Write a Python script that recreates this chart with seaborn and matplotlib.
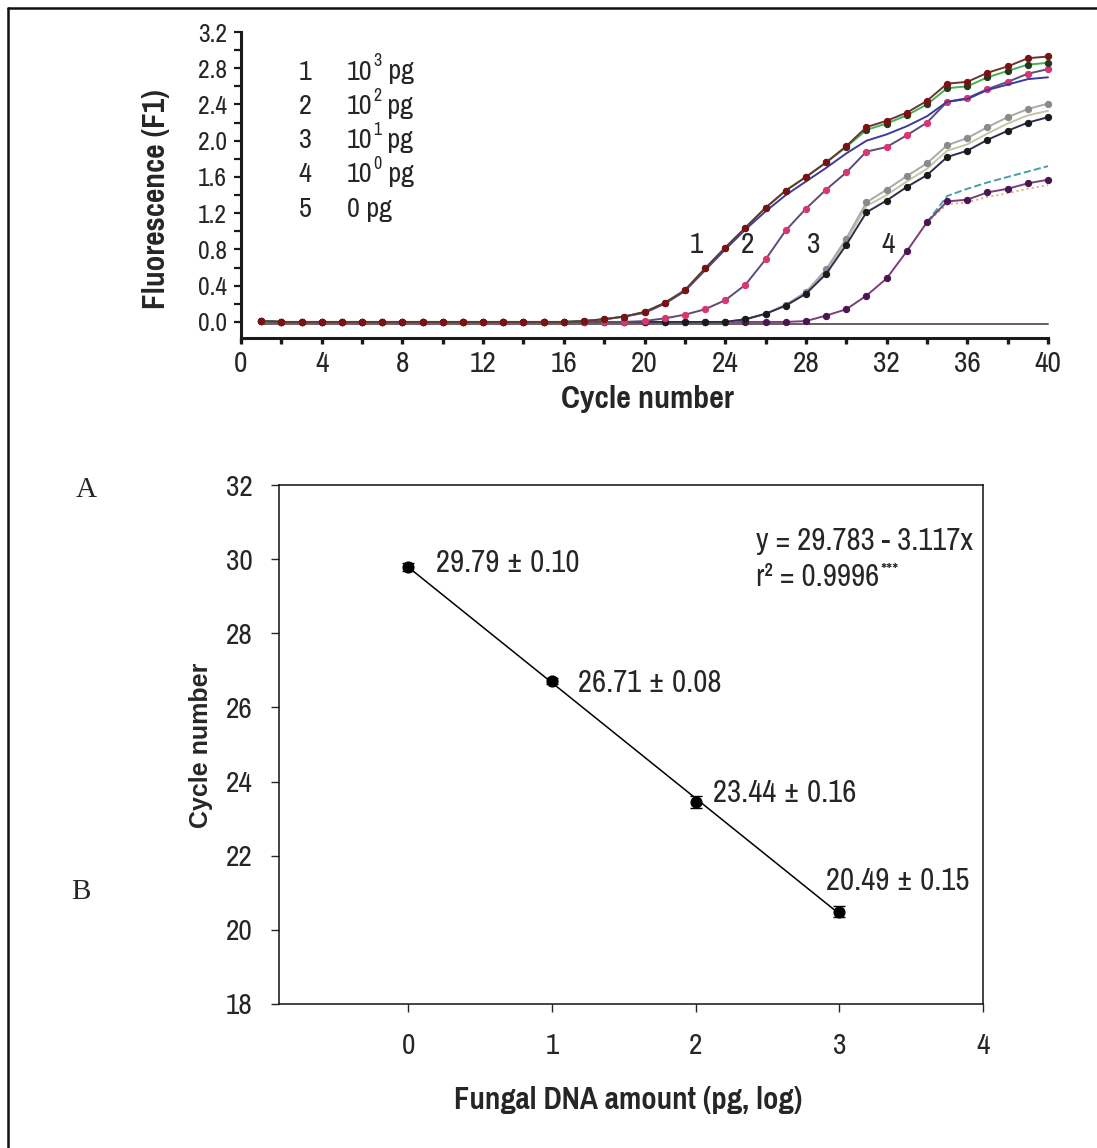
import matplotlib
matplotlib.use('Agg')
import matplotlib.pyplot as plt
import seaborn as sns
from matplotlib import font_manager
from matplotlib.ticker import MultipleLocator, FormatStrFormatter

# --- A: amplification curves (fluorescence per cycle) ---
cycles = list(range(1, 41))

rep1_red = [0.01, 0.00, 0.00, 0.00, 0.00, 0.00, 0.00, 0.00, 0.00, 0.00,
            0.00, 0.00, 0.00, 0.00, 0.00, 0.00, 0.01, 0.03, 0.06, 0.11,
            0.21, 0.35, 0.59, 0.82, 1.04, 1.26, 1.45, 1.60, 1.76, 1.94,
            2.15, 2.22, 2.31, 2.44, 2.63, 2.65, 2.75, 2.82, 2.91, 2.93]
rep1_green = [0.01, 0.00, 0.00, 0.00, 0.00, 0.00, 0.00, 0.00, 0.00, 0.00,
              0.00, 0.00, 0.00, 0.00, 0.00, 0.00, 0.01, 0.03, 0.06, 0.11,
              0.21, 0.35, 0.59, 0.82, 1.04, 1.26, 1.45, 1.60, 1.76, 1.93,
              2.12, 2.19, 2.28, 2.40, 2.58, 2.60, 2.70, 2.77, 2.84, 2.86]
rep1_blue = [0.01, 0.00, 0.00, 0.00, 0.00, 0.00, 0.00, 0.00, 0.00, 0.00,
             0.00, 0.00, 0.00, 0.00, 0.00, 0.00, 0.01, 0.03, 0.06, 0.10,
             0.20, 0.34, 0.57, 0.80, 1.02, 1.22, 1.40, 1.55, 1.70, 1.86,
             2.00, 2.07, 2.16, 2.27, 2.43, 2.46, 2.56, 2.62, 2.68, 2.70]
curve2 = [0.01, 0.00, 0.00, 0.00, 0.00, 0.00, 0.00, 0.00, 0.00, 0.00,
          0.00, 0.00, 0.00, 0.00, 0.00, 0.00, 0.00, 0.00, 0.00, 0.01,
          0.04, 0.08, 0.14, 0.24, 0.41, 0.69, 1.01, 1.25, 1.46, 1.65,
          1.88, 1.93, 2.06, 2.20, 2.43, 2.47, 2.57, 2.65, 2.74, 2.79]
rep3_dark = [0.01, 0.00, 0.00, 0.00, 0.00, 0.00, 0.00, 0.00, 0.00, 0.00,
             0.00, 0.00, 0.00, 0.00, 0.00, 0.00, 0.00, 0.00, 0.00, 0.00,
             0.00, 0.00, 0.00, 0.00, 0.03, 0.09, 0.18, 0.31, 0.53, 0.85,
             1.21, 1.34, 1.49, 1.62, 1.82, 1.89, 2.01, 2.11, 2.20, 2.26]
rep3_light = [0.01, 0.00, 0.00, 0.00, 0.00, 0.00, 0.00, 0.00, 0.00, 0.00,
              0.00, 0.00, 0.00, 0.00, 0.00, 0.00, 0.00, 0.00, 0.00, 0.00,
              0.00, 0.00, 0.00, 0.00, 0.03, 0.09, 0.19, 0.33, 0.58, 0.92,
              1.32, 1.46, 1.61, 1.75, 1.95, 2.03, 2.15, 2.26, 2.35, 2.41]
rep3_mid = [0.01, 0.00, 0.00, 0.00, 0.00, 0.00, 0.00, 0.00, 0.00, 0.00,
            0.00, 0.00, 0.00, 0.00, 0.00, 0.00, 0.00, 0.00, 0.00, 0.00,
            0.00, 0.00, 0.00, 0.00, 0.03, 0.09, 0.18, 0.32, 0.56, 0.89,
            1.28, 1.40, 1.55, 1.69, 1.89, 1.96, 2.08, 2.19, 2.28, 2.33]
curve4 = [0.01, 0.00, 0.00, 0.00, 0.00, 0.00, 0.00, 0.00, 0.00, 0.00,
          0.00, 0.00, 0.00, 0.00, 0.00, 0.00, 0.00, 0.00, 0.00, 0.00,
          0.00, 0.00, 0.00, 0.00, 0.00, 0.00, 0.00, 0.01, 0.07, 0.14,
          0.29, 0.48, 0.78, 1.10, 1.33, 1.35, 1.43, 1.47, 1.53, 1.57]
tail_cycles = [34, 35, 36, 37, 38, 39, 40]
rep4_teal = [1.10, 1.39, 1.47, 1.54, 1.60, 1.66, 1.72]
rep4_orange = [1.10, 1.30, 1.32, 1.38, 1.42, 1.47, 1.51]
curve5 = [-0.02, -0.02, -0.02, -0.02, -0.02, -0.02, -0.02, -0.02, -0.02, -0.02,
          -0.02, -0.02, -0.02, -0.02, -0.02, -0.02, -0.02, -0.02, -0.02, -0.02,
          -0.02, -0.02, -0.02, -0.02, -0.02, -0.02, -0.02, -0.02, -0.02, -0.02,
          -0.02, -0.02, -0.02, -0.02, -0.02, -0.02, -0.02, -0.02, -0.02, -0.02]

legend_ids = ['1', '2', '3', '4', '5']
legend_base = ['10', '10', '10', '10', '0']
legend_sup = ['3', '2', '1', '0', '']
curve_ids = ['1', '2', '3', '4']
curve_id_x = [22.55, 25.1, 28.4, 32.1]

# --- B: standard curve ---
log_amount = [0, 1, 2, 3]
ct_mean = [29.79, 26.71, 23.44, 20.49]
ct_sd = [0.10, 0.08, 0.16, 0.15]
ct_labels = ['29.79 ± 0.10', '26.71 ± 0.08', '23.44 ± 0.16', '20.49 ± 0.15']
ct_label_pos = [(0.19, 29.9), (1.18, 26.66), (2.12, 23.69), (2.91, 21.32)]

sns.set_style('ticks')

# pick a narrow sans that has a bold face
fonts = font_manager.fontManager.ttflist
fam_weights = {}
for f in fonts:
    w = f.weight if isinstance(f.weight, int) else 400
    fam_weights.setdefault(f.name, set()).add(w)
NARROW = 'Liberation Sans'
for cand in ['Pragati Narrow', 'PT Sans Narrow', 'Archivo Narrow', 'Roboto Condensed']:
    if cand in fam_weights and max(fam_weights[cand]) >= 700:
        NARROW = cand
        break
plt.rcParams['font.family'] = [NARROW, 'DejaVu Sans']

W, H = 1097, 1148
fig = plt.figure(figsize=(W / 100, H / 100), dpi=100)


def fx(px):
    return px / W


def fy(py):
    return 1 - py / H


# frame lines (left and top only)
fig.add_artist(plt.Line2D([fx(8), fx(8)], [fy(8), 0], transform=fig.transFigure, color='#111111', lw=1.8))
fig.add_artist(plt.Line2D([fx(8), 1], [fy(8), fy(8)], transform=fig.transFigure, color='#111111', lw=1.8))

# ---------------- top panel ----------------
ax1 = fig.add_axes([fx(241), fy(338), fx(1048) - fx(241), fy(32) - fy(338)])
series = [
    (cycles, curve5, '#6d5e5e', None, None, '-'),
    (tail_cycles, rep4_orange, '#e8a868', None, None, ':'),
    (tail_cycles, rep4_teal, '#4a9fa8', None, None, '--'),
    (cycles, curve4, '#7a3f7a', 'o', '#4a1550', '-'),
    (cycles, rep3_mid, '#c9c1a8', None, None, '-'),
    (cycles, rep3_light, '#a9a9a9', 'o', '#8a8a8a', '-'),
    (cycles, rep3_dark, '#2e2e4e', 'o', '#1a1a1a', '-'),
    (cycles, curve2, '#5e4a78', 'o', '#d8366e', '-'),
    (cycles, rep1_blue, '#3b3b9c', None, None, '-'),
    (cycles, rep1_green, '#47b04f', 'o', '#1f3a1f', '-'),
    (cycles, rep1_red, '#6a3434', 'o', '#7a1212', '-'),
]
for xs, ys, col, mk, mcol, ls in series:
    kw = dict(color=col, lw=1.4, ls=ls, clip_on=False)
    if mk:
        kw.update(marker=mk, markersize=4.5, markerfacecolor=mcol, markeredgecolor=mcol)
    sns.lineplot(x=xs, y=ys, ax=ax1, legend=False, **kw)

ax1.set_xlim(0, 40)
ax1.set_ylim(-0.177, 3.2)
ax1.xaxis.set_major_locator(MultipleLocator(4))
ax1.xaxis.set_minor_locator(MultipleLocator(2))
ax1.yaxis.set_major_locator(MultipleLocator(0.4))
ax1.yaxis.set_minor_locator(MultipleLocator(0.2))
ax1.yaxis.set_major_formatter(FormatStrFormatter('%.1f'))
for s in ['top', 'right']:
    ax1.spines[s].set_visible(False)
for s in ['left', 'bottom']:
    ax1.spines[s].set_linewidth(2.2)
    ax1.spines[s].set_color('#1a1a1a')
ax1.tick_params(axis='y', which='both', direction='out', length=5, width=1.6,
                color='#1a1a1a', labelsize=20, pad=5)
ax1.tick_params(axis='x', which='both', direction='out', length=4, width=2.4,
                color='#1a1a1a', labelsize=23, pad=5)
ax1.set_xlabel('')
ax1.set_ylabel('')

for cid, cx in zip(curve_ids, curve_id_x):
    ax1.text(cx, 0.85, cid, fontsize=23, ha='center', va='center')

fig.text(fx(156), fy(199), 'Fluorescence (F1)', rotation=90, fontsize=24.5,
         fontweight='bold', ha='center', va='center')
fig.text(fx(647), fy(399), 'Cycle number', fontsize=25, fontweight='bold',
         ha='center', va='center')

# legend: id, base value, superscript exponent, unit
for i, (lid, base, sup) in enumerate(zip(legend_ids, legend_base, legend_sup)):
    yy = 72 + i * 34.3
    fig.text(fx(305), fy(yy), lid, fontsize=22, ha='center', va='center')
    tb = fig.text(fx(347), fy(yy), base, fontsize=22, ha='left', va='center')
    anchor = tb
    if sup:
        anchor = plt.annotate(sup, xy=(1.0, 1.0), xycoords=tb, xytext=(0.5, 4.5),
                              textcoords='offset points', fontsize=14, ha='left', va='top',
                              annotation_clip=False)
    plt.annotate(' pg', xy=(1.0, 0.0), xycoords=(anchor, tb), fontsize=22,
                 ha='left', va='bottom', annotation_clip=False)

# ---------------- bottom panel ----------------
ax2 = fig.add_axes([fx(279), fy(1004), fx(983) - fx(279), fy(485) - fy(1004)])
ax2.errorbar(log_amount, ct_mean, yerr=ct_sd, fmt='none', ecolor='k',
             elinewidth=1.0, capsize=4, capthick=1.0, zorder=2)
sns.regplot(x=log_amount, y=ct_mean, ax=ax2, ci=None, color='k',
            scatter_kws={'s': 60, 'zorder': 3, 'alpha': 1},
            line_kws={'lw': 1.1})
ax2.set_xlim(-0.9, 4)
ax2.set_ylim(18, 32)
ax2.xaxis.set_major_locator(MultipleLocator(1))
ax2.yaxis.set_major_locator(MultipleLocator(2))
for s in ax2.spines.values():
    s.set_visible(True)
    s.set_linewidth(1.1)
    s.set_color('#111111')
ax2.tick_params(axis='y', direction='out', length=6, width=1.0, labelsize=23, pad=13)
ax2.tick_params(axis='x', direction='out', length=6, width=1.0, labelsize=23, pad=15)
ax2.set_xlabel('')
ax2.set_ylabel('')

for lab, (lx, ly) in zip(ct_labels, ct_label_pos):
    ax2.text(lx, ly, lab, fontsize=24, ha='left', va='center')

ax2.text(2.42, 30.49, 'y = 29.783 - 3.117x', fontsize=24, ha='left', va='center')
r2 = ax2.text(2.42, 29.52, 'r² = 0.9996', fontsize=24, ha='left', va='center')
ax2.annotate('***', xy=(1.0, 1.0), xycoords=r2, xytext=(1, 0), textcoords='offset points',
             fontsize=15, ha='left', va='top')

fig.text(fx(201), fy(745), 'Cycle number', rotation=90, fontsize=18,
         fontweight='bold', family='Liberation Sans', ha='center', va='center')
fig.text(fx(628), fy(1100), 'Fungal DNA amount (pg, log)', fontsize=24,
         fontweight='bold', ha='center', va='center')

fig.text(fx(86), fy(490), 'A', fontsize=21, family='Liberation Serif', ha='center', va='center')
fig.text(fx(81), fy(892), 'B', fontsize=21, family='Liberation Serif', ha='center', va='center')

fig.savefig('out.png', dpi=100, facecolor='white')
